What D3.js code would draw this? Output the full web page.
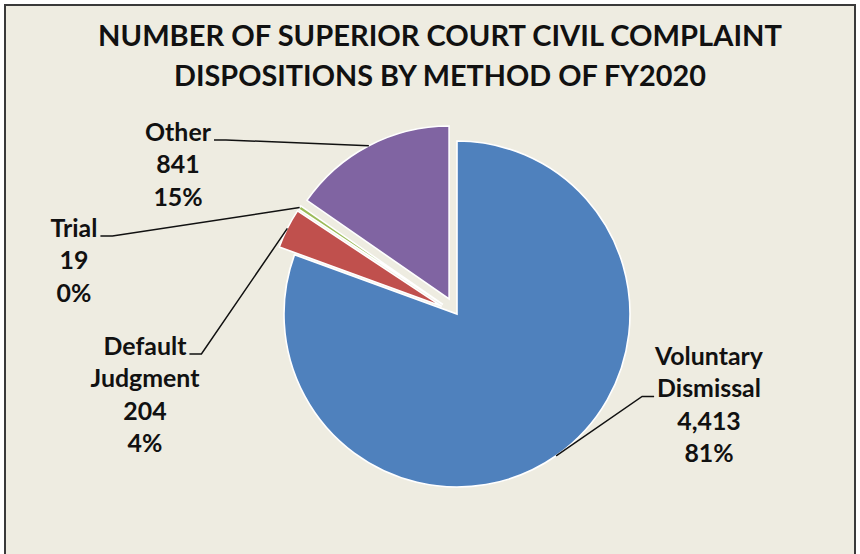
<!DOCTYPE html>
<html>
<head>
<meta charset="utf-8">
<script src="https://cdn.jsdelivr.net/npm/d3@7"></script>
<style>
  html, body { margin: 0; padding: 0; background: #ffffff; }
  svg { display: block; }
</style>
</head>
<body>
<svg id="chart" width="860" height="554"></svg>
<script>
// ---- data ----
const titleLines = ["NUMBER OF SUPERIOR COURT CIVIL COMPLAINT", "DISPOSITIONS BY METHOD OF FY2020"];
const categories = ["Voluntary Dismissal", "Default Judgment", "Trial", "Other"];
const values = [4413, 204, 19, 841];
const colors = ["#4F81BD", "#C0504D", "#9BBB59", "#8064A2"];

// ---- layout (not data) ----
const W = 860, H = 554;
const cx = 457, cy = 314, R = 173;
const explode = [0, 17, 17, 17];
// label block: center x, first baseline y, which line the leader attaches to, side
const labelLayout = [
  { x: 709, y: 365, attachLine: 1, side: "left" },
  { x: 145, y: 355, attachLine: 0, side: "right" },
  { x: 74,  y: 237, attachLine: 0, side: "right" },
  { x: 178, y: 141, attachLine: 0, side: "right" }
];
const lineGap = 32.4;

const svg = d3.select("#chart");
const font = "Lato, 'Open Sans', sans-serif";

// background + frame
svg.append("rect").attr("x", 0).attr("y", 0).attr("width", W).attr("height", H).attr("fill", "#ffffff");
svg.append("rect").attr("x", 5).attr("y", 5).attr("width", 850).attr("height", H + 10)
  .attr("fill", "#EEECE1").attr("stroke", "#3a3a3a").attr("stroke-width", 2);

// title
const tSize0 = 28;
const titleTargets = [684, 532];
const titleBase = [46, 86];
titleLines.forEach((t, i) => {
  const tx = svg.append("text")
    .attr("x", 440).attr("y", titleBase[i])
    .attr("text-anchor", "middle")
    .attr("font-family", font).attr("font-weight", 700)
    .attr("font-size", tSize0).attr("fill", "#111")
    .text(t);
  const w = tx.node().getComputedTextLength();
  tx.attr("font-size", tSize0 * titleTargets[i] / w);
});

// pie
const total = d3.sum(values);
const pie = d3.pie().sort(null).value(d => d.value).startAngle(0).endAngle(2 * Math.PI);
const data = pie(categories.map((c, i) => ({ name: c, value: values[i], color: colors[i], idx: i })));
const arc = d3.arc().innerRadius(0).outerRadius(R);

const g = svg.append("g").attr("transform", `translate(${cx},${cy})`);
const off = d => {
  const m = (d.startAngle + d.endAngle) / 2, e = explode[d.data.idx];
  return [Math.sin(m) * e, -Math.cos(m) * e];
};
g.selectAll("path.slice").data(data).join("path")
  .attr("class", "slice")
  .attr("transform", d => `translate(${off(d)[0]},${off(d)[1]})`)
  .attr("d", arc)
  .attr("fill", d => d.data.color)
  .attr("stroke", "#ffffff").attr("stroke-width", 1.6).attr("stroke-linejoin", "miter");

// label font size: fit "Voluntary" to its width in the reference
const probe = svg.append("text").attr("font-family", font).attr("font-weight", 700)
  .attr("font-size", 22).text("Voluntary");
const lblSize = 22 * 108 / probe.node().getComputedTextLength();
probe.remove();

// labels
const fmtN = d3.format(",");
const fmtP = d3.format(".0%");
data.forEach(d => {
  const L = labelLayout[d.data.idx];
  const lines = d.data.name.split(" ").concat([fmtN(d.data.value), fmtP(d.data.value / total)]);
  const tg = svg.append("g");
  const texts = lines.map((s, k) => tg.append("text")
    .attr("x", L.x).attr("y", L.y + k * lineGap)
    .attr("text-anchor", "middle")
    .attr("font-family", font).attr("font-weight", 700)
    .attr("font-size", lblSize).attr("fill", "#111")
    .text(s));
  // leader line
  const at = texts[L.attachLine];
  const tw = at.node().getComputedTextLength();
  const ay = L.y + L.attachLine * lineGap - 1;
  const ax = L.side === "right" ? L.x + tw / 2 + 3 : L.x - tw / 2 - 3;
  const kx = L.side === "right" ? ax + 12 : ax - 12;
  const m = (d.startAngle + d.endAngle) / 2;
  const o = off(d);
  const px = cx + o[0] + Math.sin(m) * R;
  const py = cy + o[1] - Math.cos(m) * R;
  svg.append("path")
    .attr("d", d3.line()([[ax, ay], [kx, ay], [px, py]]))
    .attr("fill", "none").attr("stroke", "#111").attr("stroke-width", 1.5);
});
</script>
</body>
</html>
